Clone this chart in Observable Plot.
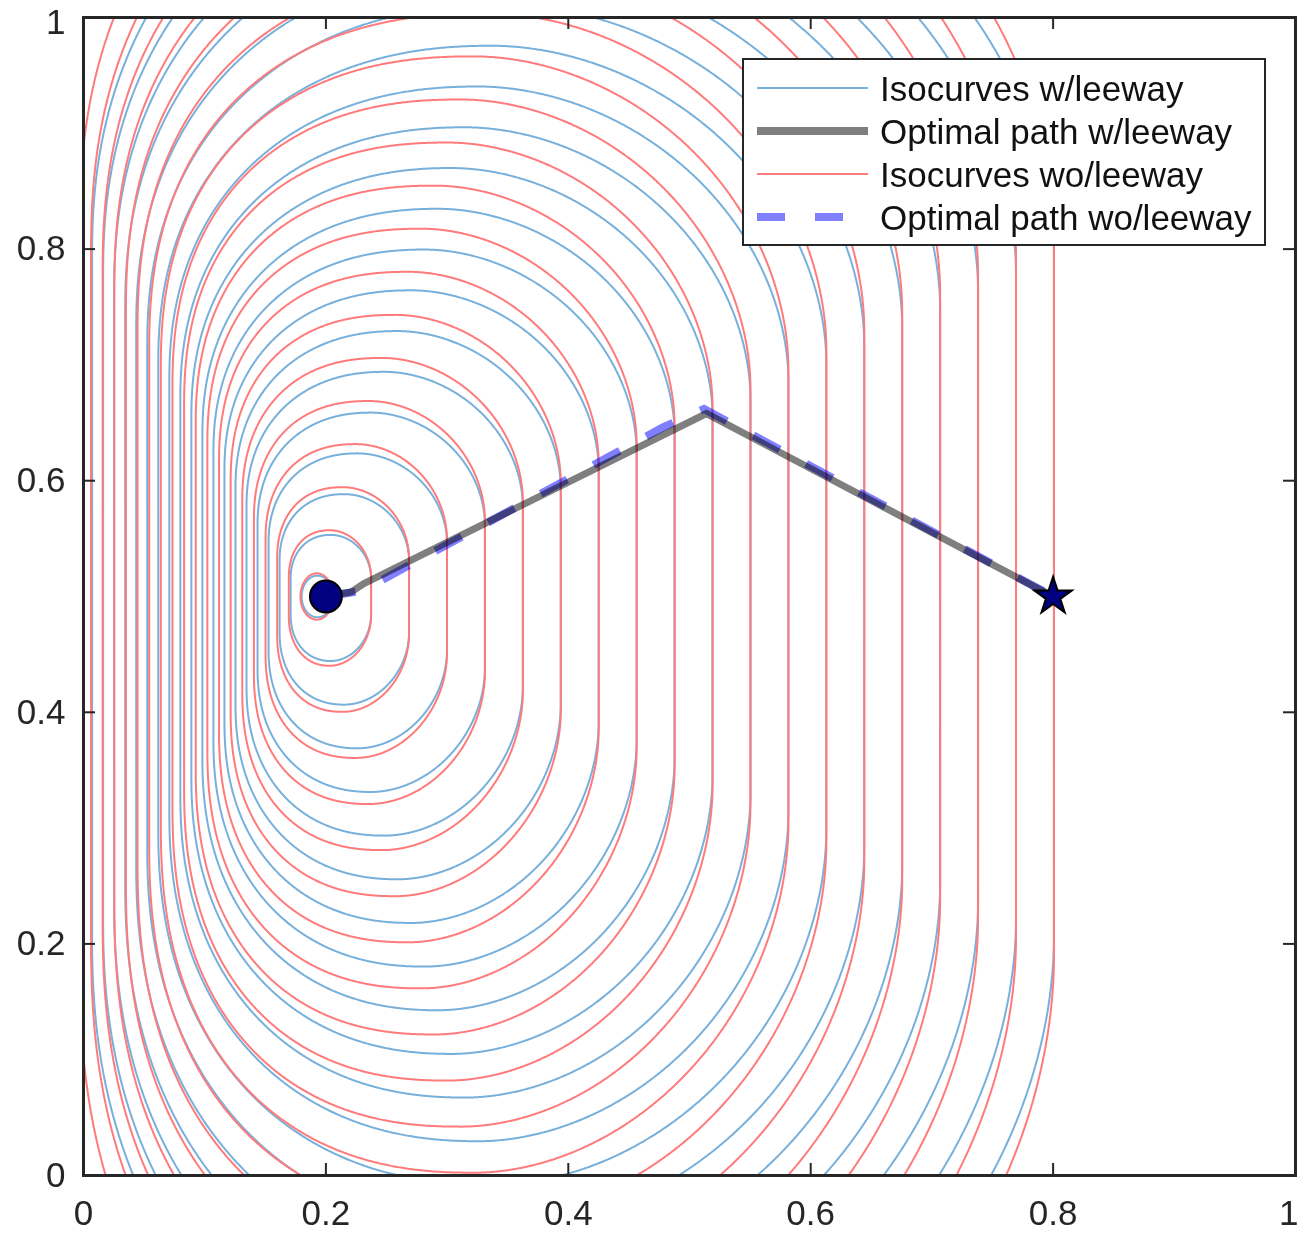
<!DOCTYPE html>
<html><head><meta charset="utf-8">
<script src="https://cdn.jsdelivr.net/npm/d3@7"></script>
<script src="https://cdn.jsdelivr.net/npm/@observablehq/plot@0.6"></script>
<style>
html,body{margin:0;padding:0;background:#fff;}
#wrap{position:relative;width:1299px;height:1235px;font-family:"Liberation Sans",Arial,Helvetica,sans-serif;}
#legend{position:absolute;left:742px;top:58px;width:520px;height:184px;border:2px solid #262626;background:#fff;}
#legend svg{display:block;}
</style></head><body><div id="wrap"></div>
<script>
// ---------- data ----------
const xTicks = [0, 0.2, 0.4, 0.6, 0.8, 1];
const yTicks = [0, 0.2, 0.4, 0.6, 0.8, 1];
const startPoint = [{x: 0.2, y: 0.5}];
const goalPoint = [{x: 0.8, y: 0.5}];
const isoLevels = [0, 1, 2, 3, 4, 5, 6, 7, 8, 9, 10, 11, 12, 13, 14, 15, 16, 17, 18, 19];
const pathWithX = [0.2, 0.221, 0.231, 0.514, 0.8];
const pathWithY = [0.5, 0.504, 0.511, 0.658, 0.5];
const pathWithoutX = [0.2, 0.23, 0.478, 0.512, 0.8];
const pathWithoutY = [0.5, 0.505, 0.646, 0.662, 0.5];
// growth of the isocurves per level (data units):
// centre shift, half width, flat-face half length, top / bottom radius, left / right squareness,
// and the level-0 curve: centre shift, half width, half height
const shapeKeys = ["u0", "A", "b", "Ctop", "Cbot", "pLeft", "pRight", "cx0", "ax0", "ay0"];
const shapeWith = [0.0111, 0.0202, 0.0155, 0.0197, 0.0222, 2.25, 1.9, -0.007, 0.013, 0.018];
const shapeWithout = [0.01085, 0.02045, 0.0164, 0.0208, 0.0234, 2.35, 1.9, -0.0075, 0.0135, 0.020];
const legendLabels = ["Isocurves w/leeway", "Optimal path w/leeway", "Isocurves wo/leeway", "Optimal path wo/leeway"];

const blueColor = "#78b0dc";
const redColor = "#ff7b7b";

const pathWith = pathWithX.map((x, i) => ({x, y: pathWithY[i]}));
const pathWithout = pathWithoutX.map((x, i) => ({x, y: pathWithoutY[i]}));

// ---------- isocurves: level n = level-0 curve (+) n * per-level shape (Minkowski sum) ----------
function toShape(arr) { const s = {}; shapeKeys.forEach((k, i) => s[k] = arr[i]); return s; }
function growthPoint(s, th) {
  const c = Math.cos(th), sn = Math.sin(th);
  const p = c >= 0 ? s.pRight : s.pLeft;
  const q = p / (p - 1);
  const C = sn >= 0 ? s.Ctop : s.Cbot;
  const a = s.A * c, bb = C * sn;
  const norm = Math.pow(Math.pow(Math.abs(a), q) + Math.pow(Math.abs(bb), q), 1 / q);
  const xs = Math.sign(a) * Math.pow(Math.abs(a) / norm, q - 1);
  const ys = Math.sign(bb) * Math.pow(Math.abs(bb) / norm, q - 1);
  return [s.u0 + s.A * xs, Math.sign(sn) * s.b + C * ys];
}
function basePoint(s, th) {
  const c = Math.cos(th), sn = Math.sin(th);
  const d = Math.sqrt(s.ax0 * s.ax0 * c * c + s.ay0 * s.ay0 * sn * sn);
  return [s.cx0 + s.ax0 * s.ax0 * c / d, s.ay0 * s.ay0 * sn / d];
}
function isocurves(arr) {
  const s = toShape(arr);
  const M = 1440;
  const sx = startPoint[0].x, sy = startPoint[0].y;
  const rows = [];
  for (const n of isoLevels) {
    for (let i = 0; i <= M; i++) {
      const th = 2 * Math.PI * (i % M) / M;
      const g = growthPoint(s, th), b0 = basePoint(s, th);
      rows.push({level: n, x: sx + b0[0] + n * g[0], y: sy + b0[1] + n * g[1]});
    }
  }
  return rows;
}
const curvesWith = isocurves(shapeWith);
const curvesWithout = isocurves(shapeWithout);

// ---------- plot ----------
const W = 1299, H = 1235, mL = 83, mR = 4, mT = 17, mB = 60;
const tickLenPx = 12;
const tickDY = tickLenPx / (H - mT - mB);
const tickDX = tickLenPx / (W - mL - mR);
const axisColor = "#262626";

const plot = Plot.plot({
  width: W, height: H,
  marginLeft: mL, marginRight: mR, marginTop: mT, marginBottom: mB,
  x: {domain: [0, 1], axis: null},
  y: {domain: [0, 1], axis: null},
  style: {fontFamily: '"Liberation Sans", Arial, Helvetica, sans-serif', background: "white", color: axisColor, overflow: "visible"},
  marks: [
    Plot.line(curvesWith, {x: "x", y: "y", z: "level", stroke: blueColor, strokeWidth: 2, curve: "linear", clip: true}),
    Plot.line(curvesWithout, {x: "x", y: "y", z: "level", stroke: redColor, strokeWidth: 2, curve: "linear", clip: true, mixBlendMode: "multiply"}),
    Plot.line(pathWithout, {x: "x", y: "y", stroke: "#0000ff", strokeOpacity: 0.5, strokeWidth: 8, strokeDasharray: "30,30", strokeLinecap: "butt", strokeLinejoin: "miter", strokeMiterlimit: 10}),
    Plot.line(pathWith, {x: "x", y: "y", stroke: "black", strokeOpacity: 0.5, strokeWidth: 7, strokeLinecap: "butt", strokeLinejoin: "miter", strokeMiterlimit: 10}),
    Plot.dot(startPoint, {x: "x", y: "y", r: 16, fill: "#000080", stroke: "black", strokeWidth: 2}),
    Plot.dot(goalPoint, {x: "x", y: "y", r: 11.8, symbol: "star", fill: "#000080", stroke: "black", strokeWidth: 2}),
    Plot.ruleX(xTicks, {x: d => d, y1: 0, y2: tickDY, stroke: axisColor, strokeWidth: 2}),
    Plot.ruleX(xTicks, {x: d => d, y1: 1 - tickDY, y2: 1, stroke: axisColor, strokeWidth: 2}),
    Plot.ruleY(yTicks, {y: d => d, x1: 0, x2: tickDX, stroke: axisColor, strokeWidth: 2}),
    Plot.ruleY(yTicks, {y: d => d, x1: 1 - tickDX, x2: 1, stroke: axisColor, strokeWidth: 2}),
    Plot.frame({stroke: axisColor, strokeWidth: 3}),
    Plot.text(xTicks.slice(0, -1), {x: d => d, y: 0, text: d => String(d), dy: 38, fontSize: 35, fill: axisColor}),
    Plot.text(xTicks.slice(-1), {x: d => d, y: 0, text: d => String(d), dy: 38, dx: 3, textAnchor: "end", fontSize: 35, fill: axisColor}),
    Plot.text(yTicks.slice(0, -1), {x: 0, y: d => d, text: d => String(d), dx: -18, textAnchor: "end", fontSize: 35, fill: axisColor}),
    Plot.text(yTicks.slice(-1), {x: 0, y: d => d, text: d => String(d), dx: -18, dy: 5, textAnchor: "end", fontSize: 35, fill: axisColor})
  ]
});

const wrap = document.getElementById("wrap");
wrap.appendChild(plot);

// ---------- legend (box inside the axes, as in the original) ----------
const legend = document.createElement("div");
legend.id = "legend";
wrap.appendChild(legend);
const lsvg = d3.select(legend).append("svg").attr("width", 520).attr("height", 184);
const rowY = (i) => 28 + i * 43;
const styles = [
  {stroke: blueColor, width: 2, opacity: 1, dash: null},
  {stroke: "black", width: 8, opacity: 0.5, dash: null},
  {stroke: redColor, width: 2, opacity: 1, dash: null},
  {stroke: "#0000ff", width: 8, opacity: 0.5, dash: "28,30"}
];
legendLabels.forEach((label, i) => {
  const st = styles[i];
  const ln = lsvg.append("line").attr("x1", 13).attr("x2", 124).attr("y1", rowY(i)).attr("y2", rowY(i))
    .attr("stroke", st.stroke).attr("stroke-width", st.width).attr("stroke-opacity", st.opacity);
  if (st.dash) ln.attr("stroke-dasharray", st.dash);
  lsvg.append("text").attr("x", 136).attr("y", rowY(i)).attr("dy", "0.36em")
    .attr("font-size", 35).attr("fill", "#111").text(label);
});
</script></body></html>
